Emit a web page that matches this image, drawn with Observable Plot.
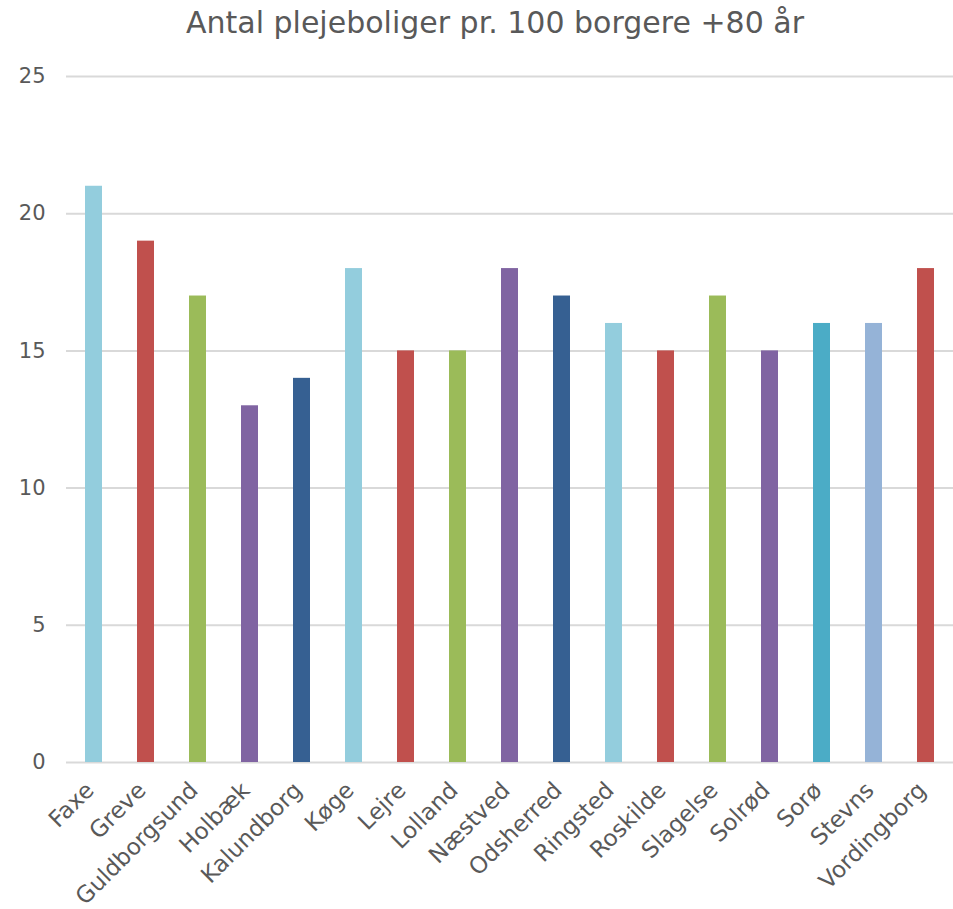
<!DOCTYPE html>
<html>
<head>
<meta charset="utf-8">
<script src="https://cdn.jsdelivr.net/npm/d3@7"></script>
<script src="https://cdn.jsdelivr.net/npm/@observablehq/plot@0.6"></script>
<style>
  body { margin: 0; background: #fff; }
  #title { height: 50px; line-height: 46px; text-align: center; font-family: "DejaVu Sans", sans-serif; font-size: 30px; color: #595959; width: 990px; }
</style>
</head>
<body>
<div id="title">Antal plejeboliger pr. 100 borgere +80 år</div>
<div id="chart"></div>
<script>
const municipalities = ["Faxe","Greve","Guldborgsund","Holbæk","Kalundborg","Køge","Lejre","Lolland","Næstved","Odsherred","Ringsted","Roskilde","Slagelse","Solrød","Sorø","Stevns","Vordingborg"];
const values = [21,19,17,13,14,18,15,15,18,17,16,15,17,15,16,16,18];
const barColors = ["#93CDDD","#C0504D","#9BBB59","#8064A2","#366092","#93CDDD","#C0504D","#9BBB59","#8064A2","#366092","#93CDDD","#C0504D","#9BBB59","#8064A2","#4BACC6","#95B3D7","#C0504D"];
const yTicks = [0,5,10,15,20,25];

const data = municipalities.map((m, i) => ({name: m, value: values[i], color: barColors[i]}));

const chart = Plot.plot({
  width: 953,
  height: 859,
  marginTop: 26,
  marginBottom: 147,
  marginLeft: 66,
  marginRight: 0,
  style: {fontFamily: "'DejaVu Sans', sans-serif", color: "#595959", background: "#fff"},
  x: {domain: municipalities, paddingInner: 0.675, paddingOuter: 0.3375, label: null},
  y: {domain: [0, 25], label: null},
  color: {type: "identity"},
  marks: [
    Plot.ruleY(yTicks, {stroke: "#D9D9D9", strokeWidth: 2}),
    Plot.barY(data, {x: "name", y: "value", fill: "color"}),
    Plot.axisY({ticks: yTicks, tickSize: 0, tickPadding: 21, fontSize: 21, fill: "#595959"}),
    Plot.axisX({tickSize: 0, tickRotate: -45, tickPadding: 24, fontSize: 23, fill: "#595959", dx: -4})
  ]
});
document.getElementById("chart").appendChild(chart);
</script>
</body>
</html>
